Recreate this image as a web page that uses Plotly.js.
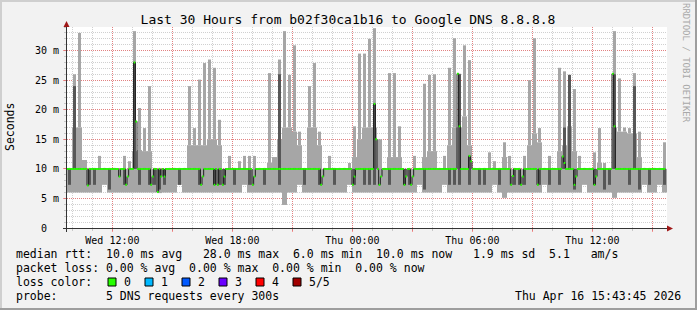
<!DOCTYPE html>
<html><head><meta charset="utf-8">
<script src="https://cdn.plot.ly/plotly-3.0.1.min.js"></script>
<style>html,body{margin:0;padding:0;background:#f2f2f2;}#chart{width:697px;height:310px;}</style>
</head><body><div id="chart"></div>
<script>
const chartTitle = 'Last 30 Hours from b02f30ca1b16 to Google DNS 8.8.8.8';
const rangeStart = '2026-04-15T09:43:45Z';
const rangeEnd = '2026-04-16T15:43:45Z';
const binMinutes = 15;
const medianStepMinutes = 5;

// smoke per 15-minute bin (ms)
const rttMin = [
 6,6,6,6,6,6,6,7.3,6,6,
 6,6,6,6,6,6,6,6,5.9,6,
 6,6,7.3,6,6,6,6,6,6,6,
 6,6,6,6,6,7.3,6,6,6,6,
 6,6,6,3.9,6,6,7.3,6,6,6,
 6,6,6,6,6,6,7.3,6,6,6,
 6,6,6,6,6,6,6,6,6,6,
 7.3,6,6,6,6,7.3,6,6,6,6,
 6,6,6,6,6,7.3,6,5.1,6,6,
 6,6,6,6,6,7.3,6,6,6,6,
 6,6,6,7.3,6,6,6,6,6,5.1,
 6,6,6,6,6,7.3,6,6,7.3,6];
const rttLow = [
 7.3,10,10,10,7.3,7.3,10,10,6.5,10,
 10,7.3,10,10,7.3,10,7.3,7.3,6.5,7.3,
 10,10,7.3,10,10,10,7.3,10,10,7.3,
 7.3,7.3,10,7.3,10,10,7.3,10,10,7.3,
 10,10,7.3,10,10,10,10,7.3,10,10,
 7.3,10,10,7.3,10,10,10,7.3,10,7.3,
 7.3,7.3,10,10,7.3,10,10,7.3,7.3,10,
 10,6.5,10,10,10,10,7.3,7.3,7.3,10,
 7.3,10,7.3,7.3,10,10,7.3,10,10,7.3,
 7.3,7.3,10,10,7.3,10,7.3,10,7.3,10,
 10,6.5,10,10,10,7.3,10,6.5,7.3,10,
 10,10,7.3,10,6.5,10,7.3,10,10,7.3];
const rttHigh = [
 10,24,10,10,10,10,10,10,10,10,
 10,10,10,28,10,10,10,10,10,10,
 10,10,10,10,10,10,10,10,10,10,
 10,10,10,10,10,10,10,10,10,10,
 10,10,26,10,10,10,10,10,10,10,
 10,10,10,10,10,10,10,10,10,10,
 10,21,10,10,10,10,10,10,10,10,
 10,10,10,10,10,10,10,10,26,10,
 12,10,10,10,10,10,10,10,10,10,
 10,10,10,10,10,10,10,10,10,17,
 25.9,10,10,10,10,10,10,10,10,26,
 10,10,10,24,10,10,10,10,10,10];
const rttUpper = [
 10,17,17,11.5,10,10,10,10,10,10,
 10,10,10,13,13.2,13,13,10,10,10,
 10,10,10,10,14,14,14,14,15,15,
 14,10,10,10,10,10,10,10,10,10,
 11,12,15,17,17,16.3,14,10,17,17,
 14,10,10,10,10,10,10,12,15,17,
 17,17,15,10,12,12,12,10,10,10,
 10,12,13,13,10,10,14,17,17,18.9,
 14,10,10,10,10,10,10,12,10,10,
 10,10,14,16,14.5,10,10,10,13,14,
 17.2,13,10,10,10,10,11,10,10,17,
 16.3,16.3,16,16,12,10,10,10,10,10];
const rttMax = [
 10,26,33,11.5,10,10,12.2,10,10,10,
 10,12.2,11.3,33.3,20.3,16.9,24,10,10,10,
 10,10,10,10,24,16.9,25.1,27.9,28.5,27.1,
 18.3,10,12.2,10,11.3,12.2,12.2,12.2,10,10,
 26.2,12,28.5,33.3,25.9,30.9,16.3,10,24,27.9,
 16.3,10,12.2,10,10,10,11,17.2,29.5,29.5,
 32,33.8,15,10,26.2,26.2,17.2,10,10,12.2,
 10,24.4,25.9,26,10,12.2,27.1,32.1,26.1,30.9,
 28.4,10,10,10,12.8,11.3,10,14.5,12.2,10,
 10,12.2,25,32.1,16.9,10,12.2,10,27.1,26.5,
 25.9,23.5,12.2,10,10,12.8,16.9,11,10,33.3,
 25.3,17,16.9,26.2,16.3,10,10,10,10,14.5];

// median rtt per 5-minute step (ms)
const rttMedian = [
 10,10,10,10,10,10,10,10,10,10,10,10,7.2,10,10,10,10,10,10,10,
 10,10,10,10,10,10,10,10,10,10,10,8.7,10,10,10,7.3,8.7,10,10,10,
 28,18,10,10,10,10,10,10,10,10,7.3,8.7,10,10,6.1,10,8.7,10,8.7,10,
 10,10,10,10,10,10,10,10,10,10,10,10,10,10,10,10,10,10,10,10,
 7.3,8.7,10,10,10,10,10,10,7.3,10,7.3,10,10,7.3,8.7,10,10,10,10,10,
 10,10,10,10,10,10,10,10,10,10,10,7.3,8.7,10,10,10,10,10,10,10,
 10,10,10,10,10,10,10,10,10,10,10,10,10,10,10,10,10,10,10,10,
 10,10,10,10,10,10,10,10,10,10,10,10,7.3,8.7,10,10,10,10,10,10,
 10,10,10,10,10,10,10,10,10,10,10,7.3,8.7,10,10,10,10,10,10,10,
 10,10,10,10,21,15,10,7.3,8.7,10,10,10,10,10,10,10,10,10,10,10,
 10,10,7.3,8.7,10,10,7.3,8.7,10,10,10,10,10,10,10,10,10,10,10,10,
 10,10,10,10,10,10,10,10,10,10,10,10,10,10,26.1,17.2,10,10,10,10,
 10,12.2,11.3,10,10,10,10,10,10,10,10,10,10,10,10,10,10,10,10,10,
 10,10,10,10,10,10,7.3,8.8,10,10,10,10,7.3,8.7,10,10,10,10,10,10,
 10,10,7.3,10,10,10,10,10,10,10,10,10,10,10,10,10,10,12.1,11,10,
 10,10,10,10,7.3,8.7,10,10,10,10,10,10,10,10,10,10,7.3,8.7,10,10,
 10,10,10,10,10,10,10,26.1,17.2,10,10,10,10,10,10,10,10,10,10,10,
 10,10,10,10,10,10,10,10,10,10,10,10,10,10,10,10,10,10,10];

const tickTimes = ['2026-04-15T12:00:00Z','2026-04-15T15:00:00Z','2026-04-15T18:00:00Z','2026-04-15T21:00:00Z',
 '2026-04-16T00:00:00Z','2026-04-16T03:00:00Z','2026-04-16T06:00:00Z','2026-04-16T09:00:00Z',
 '2026-04-16T12:00:00Z','2026-04-16T15:00:00Z'];
const tickLabels = ['Wed 12:00','','Wed 18:00','','Thu 00:00','','Thu 06:00','','Thu 12:00',''];
const minorTick0 = '2026-04-15T10:00:00Z';
const yTicks = [0,5,10,15,20,25,30];
const yTickLabels = ['0\u00a0\u00a0','5 m','10 m','15 m','20 m','25 m','30 m'];
const lossLabels = ['0','1','2','3','4','5/5'];
const lossColors = ['#26ff00','#00b8ff','#0059ff','#6a00ff','#ff0000','#a10000'];
const statLines = [
 'median rtt:  10.0 ms avg   28.0 ms max  6.0 ms min  10.0 ms now   1.9 ms sd  5.1   am/s',
 'packet loss: 0.00 % avg  0.00 % max  0.00 % min  0.00 % now',
 'loss color:',
 'probe:       5 DNS requests every 300s'];
const stampText = 'Thu Apr 16 15:43:45 2026';
const yTitle = 'Seconds';
const watermark = 'RRDTOOL / TOBI OETIKER';

// ---------- layout constants ----------
const W = 697, H = 310, L = 67, R = 30, T = 27, B = 82;
const PW = W - L - R, PH = H - T - B;
const PX = x => (x - L) / PW;
const PY = y => (H - B - y) / PH;
const MONO = 'DejaVu Sans Mono';
const smokeLight = '#a6a6a6', smokeDark = '#575757';

const iso = ms => new Date(ms).toISOString().replace('T', ' ').replace('Z', '');
const t0 = Date.parse(rangeStart), t1 = Date.parse(rangeEnd);
const binMs = binMinutes * 60000, stepMs = medianStepMinutes * 60000;
const centers = rttMin.map((_, i) => iso(t0 + (i + 0.5) * binMs));
const diff = (a, b) => a.map((v, i) => v - b[i]);

const traces = [
 {type: 'bar', x: centers, base: rttMin, y: diff(rttUpper, rttMin), width: binMs,
  marker: {color: smokeLight, line: {width: 0}}},
 {type: 'bar', x: centers, base: rttUpper, y: diff(rttMax, rttUpper), width: binMs * 0.6,
  marker: {color: smokeLight, line: {width: 0}}},
 {type: 'bar', x: centers, base: rttLow, y: diff(rttHigh, rttLow), width: binMs * 0.6,
  marker: {color: smokeDark, line: {width: 0}}}
];
const mx = [], my = [];
rttMedian.forEach((v, j) => { mx.push(iso(t0 + j * stepMs)); my.push(v); });
mx.push(iso(t0 + rttMedian.length * stepMs)); my.push(rttMedian[rttMedian.length - 1]);
traces.push({type: 'scatter', mode: 'lines', x: mx, y: my, line: {shape: 'hv', color: '#1e1e1e', width: 1}});
const gx = [], gy = [];
rttMedian.forEach((v, j) => { gx.push(iso(t0 + j * stepMs), iso(t0 + (j + 1) * stepMs), null); gy.push(v, v, null); });
traces.push({type: 'scatter', mode: 'lines', x: gx, y: gy, line: {color: lossColors[0], width: 2}});

const gridMinor = 'rgba(143,143,143,0.42)', gridMajor = 'rgba(255,0,0,0.38)';
const shapes = [
 {type: 'rect', xref: 'paper', yref: 'paper', x0: PX(0), x1: PX(W), y0: PY(0), y1: PY(2), fillcolor: '#cfcfcf', line: {width: 0}},
 {type: 'rect', xref: 'paper', yref: 'paper', x0: PX(0), x1: PX(2), y0: PY(0), y1: PY(H), fillcolor: '#cfcfcf', line: {width: 0}},
 {type: 'rect', xref: 'paper', yref: 'paper', x0: PX(0), x1: PX(W), y0: PY(H - 2), y1: PY(H), fillcolor: '#9e9e9e', line: {width: 0}},
 {type: 'rect', xref: 'paper', yref: 'paper', x0: PX(W - 2), x1: PX(W), y0: PY(0), y1: PY(H), fillcolor: '#9e9e9e', line: {width: 0}},
 {type: 'line', xref: 'paper', yref: 'paper', x0: PX(63), x1: PX(668), y0: PY(228.5), y1: PY(228.5), line: {color: '#333', width: 1}},
 {type: 'line', xref: 'paper', yref: 'paper', x0: PX(66.5), x1: PX(66.5), y0: PY(232), y1: PY(25), line: {color: '#333', width: 1}},
 {type: 'path', xref: 'paper', yref: 'paper', fillcolor: '#a01818', line: {width: 0},
  path: `M${PX(66.5)},${PY(21)} L${PX(63.5)},${PY(27)} L${PX(69.5)},${PY(27)} Z`},
 {type: 'path', xref: 'paper', yref: 'paper', fillcolor: '#a01818', line: {width: 0},
  path: `M${PX(673)},${PY(228.5)} L${PX(667)},${PY(225.5)} L${PX(667)},${PY(231.5)} Z`}
];
lossColors.forEach((c, k) => {
 const x = 108 + 37 * k;
 shapes.push({type: 'rect', xref: 'paper', yref: 'paper', x0: PX(x), x1: PX(x + 8), y0: PY(278), y1: PY(286),
  fillcolor: c, line: {color: '#000', width: 1}});
});

const ann = [];
const fontL = {family: MONO, size: 11.5, color: '#000'};
const rowsY = [254, 268, 282, 296];
statLines.forEach((s, k) => ann.push({xref: 'paper', yref: 'paper', x: PX(15), y: PY(rowsY[k]), xanchor: 'left', yanchor: 'middle',
 text: s.replace(/ /g, '\u00a0'), showarrow: false, font: fontL, borderpad: 0}));
lossLabels.forEach((s, k) => ann.push({xref: 'paper', yref: 'paper', x: PX(122.5 + 37 * k), y: PY(282), xanchor: 'left', yanchor: 'middle',
 text: s, showarrow: false, font: fontL, borderpad: 0}));
ann.push({xref: 'paper', yref: 'paper', x: PX(682), y: PY(296), xanchor: 'right', yanchor: 'middle', text: stampText, showarrow: false, font: fontL, borderpad: 0});
ann.push({xref: 'paper', yref: 'paper', x: PX(10), y: PY(127), xanchor: 'center', yanchor: 'middle', textangle: -90, text: yTitle, showarrow: false, font: fontL});
ann.push({xref: 'paper', yref: 'paper', x: PX(686), y: PY(63), xanchor: 'center', yanchor: 'middle', textangle: 90, text: watermark.replace(/ /g, '\u00a0'), showarrow: false,
 font: {family: MONO, size: 9, color: '#a8a8a8'}});

const layout = {
 width: W, height: H, margin: {l: L, r: R, t: T, b: B, pad: 0},
 paper_bgcolor: '#f2f2f2', plot_bgcolor: '#ffffff',
 showlegend: false, barmode: 'overlay', hovermode: false,
 title: {text: chartTitle, font: {family: MONO, size: 13, color: '#000'}, xref: 'container', yref: 'container',
  x: 348 / W, xanchor: 'center', y: 1 - 19 / H, yanchor: 'middle'},
 xaxis: {type: 'date', range: [iso(t0), iso(t1)], tickmode: 'array',
  tickvals: tickTimes.map(s => iso(Date.parse(s))), ticktext: tickLabels,
  showgrid: true, gridcolor: gridMajor, griddash: '1px,1px', gridwidth: 1,
  ticks: 'outside', ticklen: 3, tickcolor: gridMajor, showline: false, zeroline: false,
  tickfont: {family: MONO, size: 10, color: '#000'}, ticklabelstandoff: 0,
  minor: {tickmode: 'linear', tick0: iso(Date.parse(minorTick0)), dtick: 3600000, showgrid: true, gridcolor: gridMinor, griddash: '1px,1px', ticks: 'outside', ticklen: 2, tickcolor: gridMinor}},
 yaxis: {range: [0, 34], tickmode: 'array', tickvals: yTicks, ticktext: yTickLabels,
  showgrid: true, gridcolor: gridMajor, griddash: '1px,1px', gridwidth: 1,
  ticks: 'outside', ticklen: 3, tickcolor: gridMajor, showline: false, zeroline: false,
  tickfont: {family: MONO, size: 10, color: '#000'}, ticklabelstandoff: 2,
  minor: {tickmode: 'linear', tick0: 0, dtick: 1, showgrid: true, gridcolor: gridMinor, griddash: '1px,1px', ticks: 'outside', ticklen: 2, tickcolor: gridMinor}},
 shapes: shapes, annotations: ann
};
Plotly.newPlot('chart', traces, layout, {staticPlot: true, displayModeBar: false});
</script></body></html>
